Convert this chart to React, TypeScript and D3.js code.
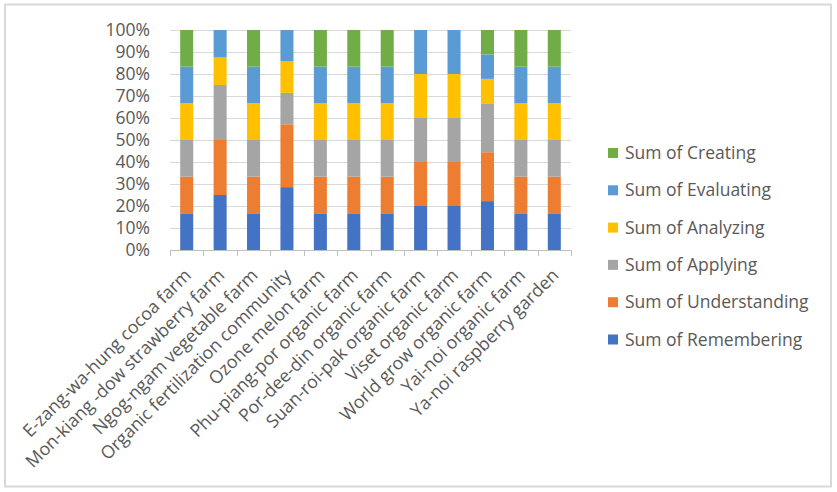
import React, { useEffect, useRef } from 'react';
import * as d3 from 'd3';

// farm names along the x axis
const farms = [
  'E-zang-wa-hung cocoa farm',
  'Mon-kiang -dow strawberry farm',
  'Ngog-ngam vegetable farm',
  'Organic fertilization community',
  'Ozone melon farm',
  'Phu-piang-por organic farm',
  'Por-dee-din organic farm',
  'Suan-roi-pak organic farm',
  'Viset organic farm',
  'World grow organic farm',
  'Yai-noi organic farm',
  'Ya-noi raspberry garden',
];

// stacking order bottom -> top
const seriesNames = [
  'Sum of Remembering',
  'Sum of Understanding',
  'Sum of Applying',
  'Sum of Analyzing',
  'Sum of Evaluating',
  'Sum of Creating',
];

const seriesColors = ['#4472C4', '#ED7D31', '#A5A5A5', '#FFC000', '#5B9BD5', '#70AD47'];

// counts per farm
const remembering = [1, 2, 1, 2, 1, 1, 1, 1, 1, 2, 1, 1];
const understanding = [1, 2, 1, 2, 1, 1, 1, 1, 1, 2, 1, 1];
const applying = [1, 2, 1, 1, 1, 1, 1, 1, 1, 2, 1, 1];
const analyzing = [1, 1, 1, 1, 1, 1, 1, 1, 1, 1, 1, 1];
const evaluating = [1, 1, 1, 1, 1, 1, 1, 1, 1, 1, 1, 1];
const creating = [1, 0, 1, 0, 1, 1, 1, 0, 0, 1, 1, 1];

const yTicks = [0, 0.1, 0.2, 0.3, 0.4, 0.5, 0.6, 0.7, 0.8, 0.9, 1];

const FONT = '"Open Sans", "DejaVu Sans", sans-serif';
const TEXT = '#595959';

export default function App() {
  const svgRef = useRef<SVGSVGElement>(null);

  useEffect(() => {
    if (!svgRef.current) return;
    const svg = d3.select(svgRef.current);
    svg.selectAll('*').remove();

    const width = 837;
    const height = 492;
    const plot = { left: 170, right: 571, top: 30, bottom: 250 };

    // white background + light frame
    svg.append('rect')
      .attr('x', 0).attr('y', 0)
      .attr('width', width).attr('height', height)
      .attr('fill', '#fff');
    svg.append('rect')
      .attr('x', 5).attr('y', 4.5)
      .attr('width', 826).attr('height', 482)
      .attr('fill', 'none')
      .attr('stroke', '#d9d9d9')
      .attr('stroke-width', 2);

    const rows = farms.map((name, i) => ({
      name,
      'Sum of Remembering': remembering[i],
      'Sum of Understanding': understanding[i],
      'Sum of Applying': applying[i],
      'Sum of Analyzing': analyzing[i],
      'Sum of Evaluating': evaluating[i],
      'Sum of Creating': creating[i],
    }));

    const stacked = d3.stack<any>()
      .keys(seriesNames)
      .offset(d3.stackOffsetExpand)(rows);

    const x = d3.scaleBand()
      .domain(farms)
      .range([plot.left, plot.right])
      .paddingInner(0.61)
      .paddingOuter(0.305);

    const xBand = d3.scaleBand()
      .domain(farms)
      .range([plot.left, plot.right]);

    const y = d3.scaleLinear()
      .domain([0, 1])
      .range([plot.bottom, plot.top]);

    // gridlines
    svg.append('g')
      .selectAll('line')
      .data(yTicks.slice(1))
      .enter()
      .append('line')
      .attr('x1', plot.left)
      .attr('x2', plot.right)
      .attr('y1', d => Math.round(y(d)) + 0.5)
      .attr('y2', d => Math.round(y(d)) + 0.5)
      .attr('stroke', '#d9d9d9')
      .attr('stroke-width', 1);

    // y labels
    svg.append('g')
      .selectAll('text')
      .data(yTicks)
      .enter()
      .append('text')
      .attr('x', 150)
      .attr('y', d => y(d))
      .attr('dy', '0.35em')
      .attr('text-anchor', 'end')
      .style('font-family', FONT)
      .style('font-size', '17.5px')
      .style('fill', TEXT)
      .text(d => d3.format('.0%')(d));

    // bars
    svg.append('g')
      .selectAll('g')
      .data(stacked)
      .enter()
      .append('g')
      .attr('fill', (_, i) => seriesColors[i])
      .selectAll('rect')
      .data(d => d)
      .enter()
      .append('rect')
      .attr('x', d => x(d.data.name)!)
      .attr('y', d => y(d[1]))
      .attr('width', x.bandwidth())
      .attr('height', d => y(d[0]) - y(d[1]));

    // x axis line + tick marks at band edges
    const axis = svg.append('g');
    axis.append('line')
      .attr('x1', plot.left).attr('x2', plot.right)
      .attr('y1', plot.bottom + 0.5).attr('y2', plot.bottom + 0.5)
      .attr('stroke', '#bfbfbf');
    const edges = farms.map(f => xBand(f)!).concat([plot.right]);
    axis.selectAll('line.tick')
      .data(edges)
      .enter()
      .append('line')
      .attr('class', 'tick')
      .attr('x1', d => Math.round(d) + 0.5)
      .attr('x2', d => Math.round(d) + 0.5)
      .attr('y1', plot.bottom)
      .attr('y2', plot.bottom + 6)
      .attr('stroke', '#bfbfbf');

    // rotated category labels
    axis.selectAll('text')
      .data(farms)
      .enter()
      .append('text')
      .attr('transform', d => {
        const cx = xBand(d)! + xBand.bandwidth() / 2 + 1;
        return `translate(${cx},${plot.bottom + 22}) rotate(-45)`;
      })
      .attr('text-anchor', 'end')
      .attr('dy', '0.35em')
      .style('font-family', FONT)
      .style('font-size', '17.8px')
      .style('fill', TEXT)
      .text(d => d);

    // legend, top item is the top of the stack
    const legendItems = seriesNames.map((name, i) => ({ name, color: seriesColors[i] })).reverse();
    const legend = svg.append('g');
    const item = legend.selectAll('g')
      .data(legendItems)
      .enter()
      .append('g')
      .attr('transform', (_, i) => `translate(608,${153 + i * 37.3})`);
    item.append('rect')
      .attr('x', 0).attr('y', -5)
      .attr('width', 10).attr('height', 10)
      .attr('fill', d => d.color);
    item.append('text')
      .attr('x', 17)
      .attr('y', 0)
      .attr('dy', '0.35em')
      .style('font-family', FONT)
      .style('font-size', '17.5px')
      .style('fill', TEXT)
      .text(d => d.name);
  }, []);

  return (
    <svg
      ref={svgRef}
      width={837}
      height={492}
      style={{ position: 'absolute', left: 0, top: 0 }}
    />
  );
}
